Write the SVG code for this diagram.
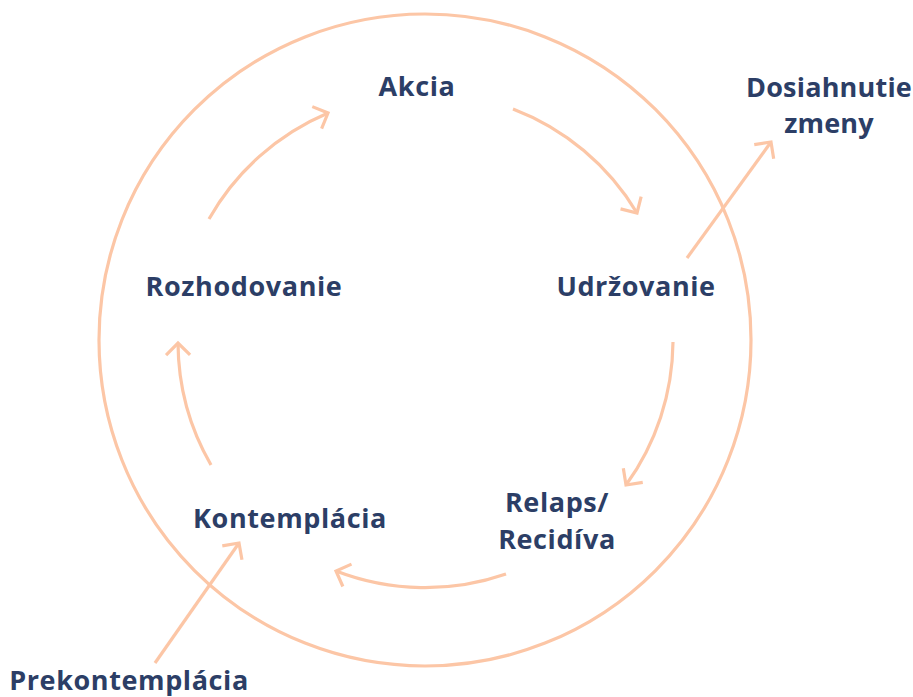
<svg xmlns="http://www.w3.org/2000/svg" width="913" height="697" viewBox="0 0 913 697">
<defs>
<style>
.lbl{font-family:"Open Sans","Liberation Sans",sans-serif;font-weight:700;font-size:27px;letter-spacing:0.6px;fill:#2c3e66;text-anchor:middle}
.ln{fill:none;stroke:#fcc6a6;stroke-width:3.2;stroke-linecap:butt}
</style>
<marker id="ah" viewBox="-20 -14 24 28" markerWidth="24" markerHeight="28" refX="0" refY="0" orient="auto" markerUnits="userSpaceOnUse">
<path d="M-12,-12 L0,0 L-12,12" fill="none" stroke="#fcc6a6" stroke-width="3.2"/>
</marker>
</defs>
<rect width="913" height="697" fill="#fff"/>
<circle cx="425" cy="340" r="326" class="ln"/>
<g id="connectors">
<path class="ln" d="M209,219 A247,247 0 0 1 328,113" marker-end="url(#ah)"/>
<path class="ln" d="M513,109 A247,247 0 0 1 637,213" marker-end="url(#ah)"/>
<path class="ln" d="M673,342 A247,247 0 0 1 626,485" marker-end="url(#ah)"/>
<path class="ln" d="M506,574 A247,247 0 0 1 336,571" marker-end="url(#ah)"/>
<path class="ln" d="M211,465 A247,247 0 0 1 178,343" marker-end="url(#ah)"/>
<path class="ln" d="M687,258 L771,142" marker-end="url(#ah)"/>
<path class="ln" d="M155,663 L239,543" marker-end="url(#ah)"/>
</g>
<g id="akcia"><text class="lbl" x="417" y="96">Akcia</text></g>
<g id="udrzovanie"><text class="lbl" x="636" y="296">Udržovanie</text></g>
<g id="relaps"><text class="lbl" x="557" y="512">Relaps/</text><text class="lbl" x="557" y="549">Recidíva</text></g>
<g id="kontemplacia"><text class="lbl" x="290" y="528">Kontemplácia</text></g>
<g id="rozhodovanie"><text class="lbl" x="244" y="296">Rozhodovanie</text></g>
<g id="prekontemplacia"><text class="lbl" x="129" y="690">Prekontemplácia</text></g>
<g id="dosiahnutie"><text class="lbl" x="829" y="97" style="letter-spacing:0.2px">Dosiahnutie</text><text class="lbl" x="829" y="133" style="letter-spacing:0.2px">zmeny</text></g>
</svg>
